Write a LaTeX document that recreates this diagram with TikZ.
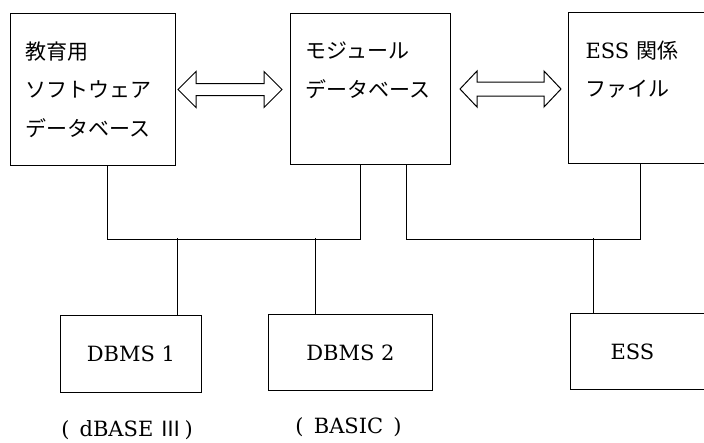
\documentclass[tikz,border=0pt]{standalone}
\usepackage{fontspec}
\setmainfont{DejaVu Serif}
\newfontfamily\jpfont{Noto Sans CJK JP}
\usetikzlibrary{positioning}
\usetikzlibrary{calc}
\tikzset{
        box/.style={draw, rectangle, line width=1pt, inner ysep=0pt, anchor=north west},
        % Database boxes (top row)
        node_db/.style={box, align=left, inner xsep=15pt, font=\jpfont\fontsize{21}{38.5}\selectfont},
        % System boxes (bottom row)
        node_sys/.style={box, align=center, font=\fontsize{21}{25}\selectfont},
        % Notes under the system boxes
        node_note/.style={inner sep=0pt, font=\fontsize{21}{25}\selectfont},
        % Bus lines
        bus/.style={line width=1pt},
        % Hollow double arrows
        dbl/.style={line width=1pt, line join=miter}
}
\begin{document}
\begin{tikzpicture}[x=1pt, y=-1pt]
    \useasboundingbox (0,0) rectangle (704,442);
    \clip (0,0) rectangle (704,442);

    % top row
    \node[node_db, minimum width=165pt, minimum height=152pt, text width=135pt] (soft) at (10,13)
        {教育用\\ソフトウェア\\データベース};
    \node[node_db, minimum width=160pt, minimum height=151pt, text width=130pt] (module) at (290,13)
        {モジュール\\データベース\\\mbox{}};
    \node[node_db, inner xsep=17pt, minimum width=170pt, minimum height=151pt, text width=136pt] (essfile) at (568,12)
        {{\rmfamily\fontsize{21}{25}\selectfont ESS} 関係\\ファイル\\\mbox{}};

    % bottom row
    \node[node_sys, minimum width=141pt, minimum height=77pt] (dbms1) at (60,315) {DBMS 1};
    \node[node_sys, minimum width=164pt, minimum height=76pt] (dbms2) at (268,314) {DBMS 2};
    \node[node_sys, align=left, inner xsep=40pt, text width=90pt, minimum height=76pt] (ess) at (570,313) {ESS};

    \node[node_note, below=27pt of dbms1, xshift=-4pt] (note1) {(\ \,dBASE\ {\jpfont\fontsize{21}{25}\selectfont Ⅲ}\,)};
    \node[node_note, below=26pt of dbms2, xshift=-2pt] (note2) {(\ \,BASIC\ \,)};

    % double arrows between the databases
    \draw[dbl] let \p1=([xshift=2pt]soft.east), \p2=([xshift=-8pt]module.west) in
        (\x1,\y1) -- (\x1+18pt,\y1+18pt) -- (\x1+18pt,\y1+6pt) -- (\x2-18pt,\y1+6pt)
        -- (\x2-18pt,\y1+18pt) -- (\x2,\y1) -- (\x2-18pt,\y1-18pt) -- (\x2-18pt,\y1-6pt)
        -- (\x1+18pt,\y1-6pt) -- (\x1+18pt,\y1-18pt) -- cycle;
    \draw[dbl] let \p1=([xshift=9pt]module.east), \p2=([xshift=-7pt]essfile.west) in
        (\x1,\y1) -- (\x1+17pt,\y1+18pt) -- (\x1+17pt,\y1+7pt) -- (\x2-17pt,\y1+7pt)
        -- (\x2-17pt,\y1+18pt) -- (\x2,\y1) -- (\x2-17pt,\y1-18pt) -- (\x2-17pt,\y1-7pt)
        -- (\x1+17pt,\y1-7pt) -- (\x1+17pt,\y1-18pt) -- cycle;

    % buses
    \draw[bus] ([xshift=97pt]soft.south west) -- ++(0,73) -| ([xshift=70pt]module.south west);
    \draw[bus] ([xshift=116pt]module.south west) -- ++(0,74) -| ([xshift=72pt]essfile.south west);

    % drops to the systems
    \draw[bus] ([xshift=117pt]dbms1.north west) -- ++(0,-77);
    \draw[bus] ([xshift=47pt]dbms2.north west) -- ++(0,-76);
    \draw[bus] ([xshift=23pt]ess.north west) -- ++(0,-75);
\end{tikzpicture}
\end{document}
